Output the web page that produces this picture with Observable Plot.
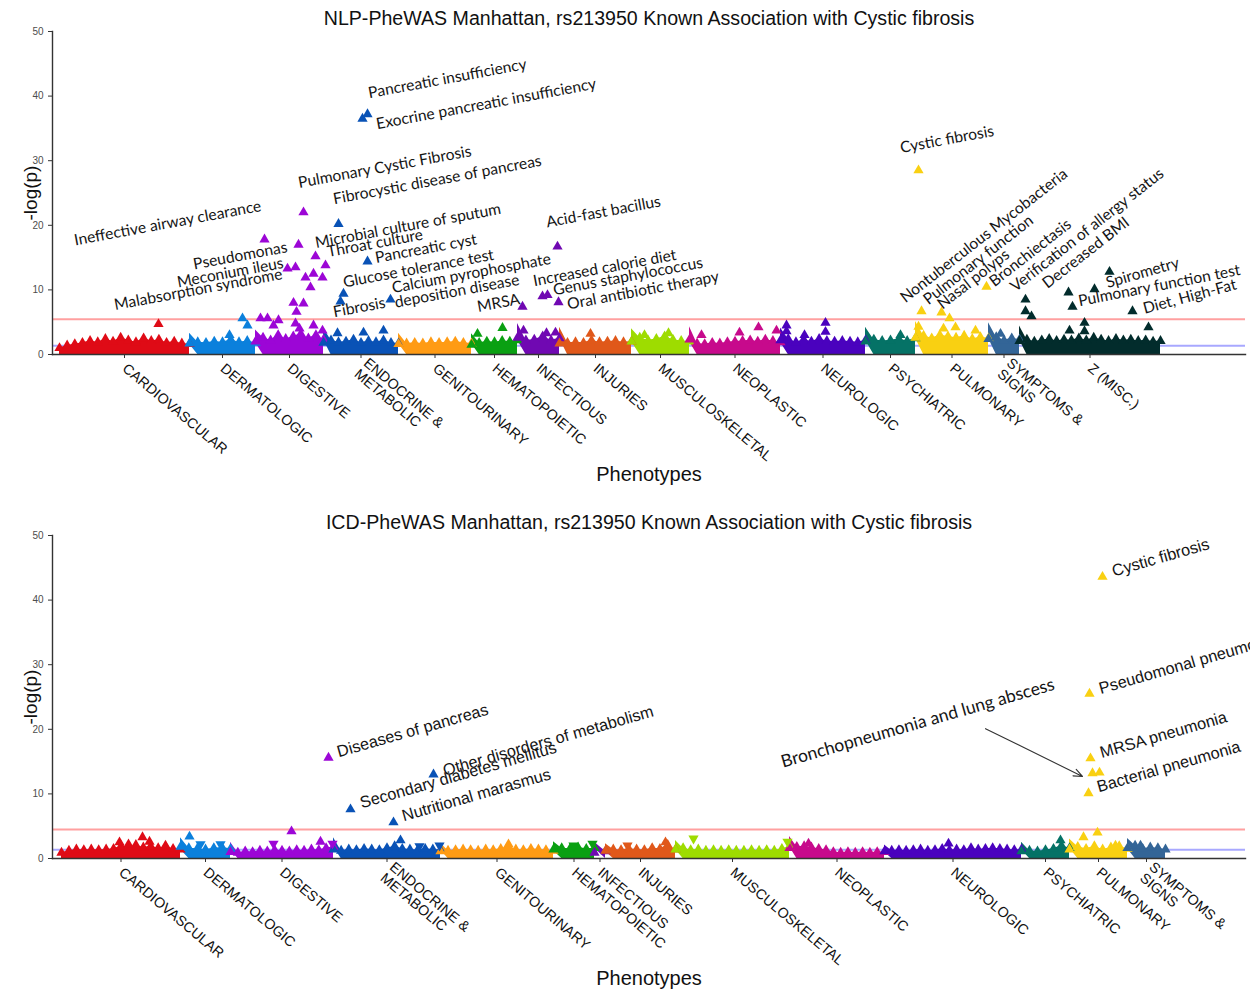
<!DOCTYPE html>
<html><head><meta charset="utf-8">
<script src="https://cdn.jsdelivr.net/npm/d3@7"></script>
<script src="https://cdn.jsdelivr.net/npm/@observablehq/plot@0.6"></script>
<style>
html,body{margin:0;padding:0;background:#fff;}
#wrap svg{display:block;}
</style></head><body><div id="wrap"></div>
<script>
// ---------------- DATA ----------------
const nlpTitle = "NLP-PheWAS Manhattan, rs213950 Known Association with Cystic fibrosis";
const icdTitle = "ICD-PheWAS Manhattan, rs213950 Known Association with Cystic fibrosis";
const xTitle = "Phenotypes";
const yTitle = "-log(p)";
const yTicks = [0, 10, 20, 30, 40, 50];

const nlpCategories = ["CARDIOVASCULAR","DERMATOLOGIC","DIGESTIVE","ENDOCRINE &\nMETABOLIC","GENITOURINARY","HEMATOPOIETIC","INFECTIOUS","INJURIES","MUSCULOSKELETAL","NEOPLASTIC","NEUROLOGIC","PSYCHIATRIC","PULMONARY","SYMPTOMS &\nSIGNS","Z (MISC.)"];
const nlpCounts = [130,66,68,75,73,46,42,72,58,91,85,50,73,31,141];
const nlpOffset = 0;
const nlpThresholds = [5.45, 1.35];
// background mass of non-significant phenotypes: -log(p) sampled along each category
const nlpMass = [
  [1.0,1.4,1.6,1.8,2.1,1.9,2.4,2.0,2.6,2.2,1.9,2.5,2.1,2.3,1.8,2.0,1.7,1.6],
  [1.7,1.9,1.8,2.0,1.9,2.3,1.9,2.1,1.8],
  [2.0,2.6,2.2,3.0,2.4,2.8,3.2,2.5,3.0,2.3],
  [1.8,2.2,1.9,2.0,2.3,1.8,2.1,1.9,2.2,1.8,1.7],
  [1.6,1.7,1.8,1.7,1.9,1.8,1.9,2.0,1.8,1.7],
  [1.5,1.8,2.0,1.9,2.1,2.0,2.2],
  [2.6,2.2,2.3,2.8,2.2,2.5],
  [1.7,1.8,1.9,1.8,2.2,1.9,2.0,2.1,1.9,2.0],
  [2.0,2.6,2.2,2.4,2.8,2.3,2.1,2.0],
  [2.3,1.7,1.6,1.8,1.7,1.9,2.0,2.1,2.2,2.0,2.3,2.1,1.9],
  [2.2,2.4,1.9,2.3,2.0,2.4,2.1,2.0,2.1,2.0,1.9,2.2],
  [2.0,2.3,2.1,2.2,2.4,2.1,2.5],
  [2.6,2.9,2.5,3.0,2.8,2.6,2.9,2.4,2.7,2.5],
  [2.4,2.7,2.2,2.5,2.3],
  [2.1,2.3,2.0,2.2,2.4,2.1,2.3,2.2,2.5,2.2,2.6,2.3,2.1,2.4,2.2,2.3,2.1,2.2,2.0,2.1]
];
// [category, phenotype index, -log(p)]
const nlpHits = [
  ["CARDIOVASCULAR",99,4.7],
  ["DERMATOLOGIC",183,5.6],["DERMATOLOGIC",188,4.5],["DERMATOLOGIC",170,3.0],
  ["DIGESTIVE",205,17.8],["DIGESTIVE",244,22.0],["DIGESTIVE",239,17.0],["DIGESTIVE",228,13.3],["DIGESTIVE",236,13.5],
  ["DIGESTIVE",256,15.2],["DIGESTIVE",266,13.8],["DIGESTIVE",246,11.9],["DIGESTIVE",254,12.5],["DIGESTIVE",263,11.9],
  ["DIGESTIVE",251,10.4],["DIGESTIVE",234,8.0],["DIGESTIVE",244,7.9],["DIGESTIVE",237,6.6],["DIGESTIVE",201,5.6],
  ["DIGESTIVE",208,5.6],["DIGESTIVE",219,5.3],["DIGESTIVE",214,4.5],["DIGESTIVE",236,4.8],["DIGESTIVE",254,4.5],
  ["DIGESTIVE",263,3.7],["DIGESTIVE",240,4.0],
  ["ENDOCRINE &\nMETABOLIC",279,20.2],["ENDOCRINE &\nMETABOLIC",303,36.5],["ENDOCRINE &\nMETABOLIC",308,37.2],
  ["ENDOCRINE &\nMETABOLIC",308,14.4],["ENDOCRINE &\nMETABOLIC",284,9.4],["ENDOCRINE &\nMETABOLIC",281,8.2],
  ["ENDOCRINE &\nMETABOLIC",331,8.5],["ENDOCRINE &\nMETABOLIC",278,3.3],["ENDOCRINE &\nMETABOLIC",304,3.4],
  ["ENDOCRINE &\nMETABOLIC",324,3.7],
  ["HEMATOPOIETIC",418,3.2],["HEMATOPOIETIC",443,4.1],
  ["INFECTIOUS",463,7.4],["INFECTIOUS",483,9.0],["INFECTIOUS",488,9.2],["INFECTIOUS",498,16.7],["INFECTIOUS",499,8.1],
  ["INFECTIOUS",464,3.7],["INFECTIOUS",487,3.3],["INFECTIOUS",496,3.4],
  ["INJURIES",531,3.2],
  ["MUSCULOSKELETAL",609,3.3],["MUSCULOSKELETAL",585,3.0],
  ["NEOPLASTIC",680,3.4],["NEOPLASTIC",699,4.2],["NEOPLASTIC",717,3.7],["NEOPLASTIC",642,3.0],
  ["NEUROLOGIC",727,4.5],["NEUROLOGIC",766,4.9],["NEUROLOGIC",727,3.6],["NEUROLOGIC",766,3.5],["NEUROLOGIC",745,3.0],
  ["PSYCHIATRIC",841,3.0],
  ["PULMONARY",859,28.5],["PULMONARY",862,6.7],["PULMONARY",882,6.5],["PULMONARY",890,5.6],["PULMONARY",927,10.5],
  ["PULMONARY",859,4.3],["PULMONARY",884,4.0],["PULMONARY",896,4.2],["PULMONARY",916,3.7],
  ["SYMPTOMS &\nSIGNS",941,3.2],
  ["Z (MISC.)",966,8.5],["Z (MISC.)",966,6.7],["Z (MISC.)",972,5.9],["Z (MISC.)",1009,9.6],["Z (MISC.)",1013,7.4],
  ["Z (MISC.)",1035,10.1],["Z (MISC.)",1050,12.8],["Z (MISC.)",1073,6.7],["Z (MISC.)",1025,4.9],["Z (MISC.)",1010,3.7],
  ["Z (MISC.)",1089,4.2],["Z (MISC.)",1025,3.6]
];
// [text, index, -log(p), angle]
const nlpLabels = [
  ["Pancreatic insufficiency",309,40.4,-10.5],
  ["Exocrine pancreatic insufficiency",317,35.6,-10.5],
  ["Pulmonary Cystic Fibrosis",239,26.5,-10.5],
  ["Fibrocystic disease of pancreas",274,24.0,-10.5],
  ["Ineffective airway clearance",15,17.6,-10.5],
  ["Microbial culture of sputum",256,17.2,-10.5],
  ["Pseudomonas",134,13.9,-10.5],
  ["Throat culture",268,15.8,-10.5],
  ["Pancreatic cyst",316,14.9,-10.5],
  ["Meconium ileus",118,11.1,-10.5],
  ["Malabsorption syndrome",55,7.6,-10.5],
  ["Glucose tolerance test",284,11.1,-10.5],
  ["Calcium pyrophosphate\ndeposition disease",334,9.1,-10.5],
  ["Fibrosis",274,6.5,-10.5],
  ["MRSA",418,7.3,-10.5],
  ["Acid-fast bacillus",487,20.4,-10.5],
  ["Increased calorie diet",474,11.3,-10.5],
  ["Genus staphylococcus",494,9.9,-10.5],
  ["Oral antibiotic therapy",508,7.7,-10.5],
  ["Cystic fibrosis",841,31.9,-10.5],
  ["Nontuberculous Mycobacteria",843,8.5,-38],
  ["Pulmonary function",866,8.2,-38],
  ["Nasal polyps",880,7.5,-38],
  ["Bronchiectasis",932,11.0,-38],
  ["Verification of allergy status",953,10.2,-38],
  ["Decreased BMI",985,10.7,-38],
  ["Spirometry",1047,11.0,-16],
  ["Pulmonary function test",1019,8.2,-11],
  ["Diet, High-Fat",1084,7.0,-15]
];

const icdCategories = ["CARDIOVASCULAR","DERMATOLOGIC","DIGESTIVE","ENDOCRINE &\nMETABOLIC","GENITOURINARY","HEMATOPOIETIC","INFECTIOUS","INJURIES","MUSCULOSKELETAL","NEOPLASTIC","NEUROLOGIC","PSYCHIATRIC","PULMONARY","SYMPTOMS &\nSIGNS"];
const icdCounts = [119,50,103,107,113,41,11,70,114,95,137,48,58,38];
const icdOffset = 2;
const icdThresholds = [4.5, 1.35];
const icdMass = [
  [0.9,1.2,1.4,1.3,1.4,1.3,1.4,1.5,1.9,1.6,2.1,1.7,1.9,1.6,1.8,1.5,1.4],
  [1.8,1.6,1.5,1.4,1.6,1.7,1.5],
  [1.0,0.9,1.1,1.0,1.2,1.1,1.3,1.2,1.1,1.3,1.2,1.4,1.3,1.6,1.8],
  [1.4,1.2,1.4,1.3,1.5,1.4,1.3,1.6,1.9,1.5,1.4,1.3,1.5,1.4,1.3],
  [1.1,1.2,1.3,1.4,1.3,1.2,1.4,1.3,1.5,1.9,1.4,1.3,1.5,1.4,1.3,1.2],
  [1.4,1.6,1.5,1.7,1.5,1.6],
  [0.9,1.1],
  [1.2,1.4,1.3,1.5,1.4,1.3,1.6,1.5,2.1,1.4],
  [1.4,1.6,1.3,1.4,1.2,1.3,1.2,1.3,1.2,1.2,1.3,1.2,1.3,1.2,1.5,1.8],
  [1.6,1.8,1.9,1.7,1.5,1.3,1.0,0.9,1.0,0.9,1.0,0.9,1.0,1.0],
  [1.1,1.2,1.3,1.2,1.3,1.4,1.2,1.3,1.5,1.3,1.4,1.3,1.6,1.4,1.5,1.6,1.5,1.4,1.3,1.4],
  [1.1,1.2,1.1,1.3,1.5,2.0,1.6],
  [1.4,1.8,1.5,1.9,1.4,1.7,1.9,1.5],
  [1.6,2.0,1.5,1.7,1.6,1.4]
];
// [category, phenotype index, -log(p), direction (1 up, -1 down)]
const icdHits = [
  ["CARDIOVASCULAR",60,2.5,1],["CARDIOVASCULAR",69,2.2,1],["CARDIOVASCULAR",83,3.3,1],["CARDIOVASCULAR",106,2.0,1],["CARDIOVASCULAR",90,2.6,1],
  ["DERMATOLOGIC",130,3.4,1],["DERMATOLOGIC",141,2.2,-1],["DERMATOLOGIC",161,2.2,-1],
  ["DIGESTIVE",269,15.6,1],["DIGESTIVE",232,4.2,1],["DIGESTIVE",261,2.6,1],["DIGESTIVE",214,2.3,-1],["DIGESTIVE",273,2.3,-1],
  ["ENDOCRINE &\nMETABOLIC",291,7.6,1],["ENDOCRINE &\nMETABOLIC",334,5.6,1],["ENDOCRINE &\nMETABOLIC",374,13.0,1],
  ["ENDOCRINE &\nMETABOLIC",341,2.8,1],["ENDOCRINE &\nMETABOLIC",380,2.0,-1],["ENDOCRINE &\nMETABOLIC",360,1.9,-1],
  ["GENITOURINARY",449,2.2,1],
  ["HEMATOPOIETIC",514,2.0,-1],["HEMATOPOIETIC",533,2.3,-1],
  ["INJURIES",568,2.0,-1],["INJURIES",606,2.5,1],
  ["MUSCULOSKELETAL",634,3.1,-1],["MUSCULOSKELETAL",728,2.6,-1],
  ["NEOPLASTIC",749,2.3,1],
  ["NEUROLOGIC",889,2.3,1],
  ["PSYCHIATRIC",1001,2.8,1],
  ["PULMONARY",1043,43.6,1],["PULMONARY",1030,25.5,1],["PULMONARY",1031,15.5,1],["PULMONARY",1033,13.2,1],
  ["PULMONARY",1040,13.3,1],["PULMONARY",1029,10.1,1],["PULMONARY",1024,3.3,1],["PULMONARY",1038,4.0,1],["PULMONARY",1056,2.0,1],
  ["SYMPTOMS &\nSIGNS",1081,2.0,1]
];
const icdLabels = [
  ["Diseases of pancreas",278,16.4,-16],
  ["Other disorders of metabolism",384,13.5,-16],
  ["Secondary diabetes mellitus",301,8.5,-16],
  ["Nutritional marasmus",343,6.5,-16],
  ["Cystic fibrosis",1053,44.4,-16],
  ["Pseudomonal pneumonia",1040,26.2,-16],
  ["MRSA pneumonia",1041,16.3,-16],
  ["Bacterial pneumonia",1038,11.0,-16]
];
const icdNotes = [["Bronchopneumonia and lung abscess",722,14.9,-16]];
const icdArrows = [[926,20.1,1023,12.7]];

// ---------------- STYLE ----------------
const palette = {
  "CARDIOVASCULAR":"#df0b16","DERMATOLOGIC":"#0b80dc","DIGESTIVE":"#9c06d6","ENDOCRINE &\nMETABOLIC":"#0952b6",
  "GENITOURINARY":"#ff9b14","HEMATOPOIETIC":"#0aa012","INFECTIOUS":"#7008b2","INJURIES":"#e0581a",
  "MUSCULOSKELETAL":"#9edc00","NEOPLASTIC":"#c70a8c","NEUROLOGIC":"#4a02be","PSYCHIATRIC":"#057266",
  "PULMONARY":"#f9d012","SYMPTOMS &\nSIGNS":"#336597","Z (MISC.)":"#022c2c"
};
const sq3 = Math.sqrt(3);
const triDown = {draw(ctx, size){const y = -Math.sqrt(size/(sq3*3)); ctx.moveTo(0,-y*2); ctx.lineTo(-sq3*y,y); ctx.lineTo(sq3*y,y); ctx.closePath();}};
const SANS = "'Liberation Sans', Arial, sans-serif";

function panel(o){
  const ranges = []; let s = o.offset;
  o.cats.forEach((c,i)=>{ranges.push({cat:c,x0:s,x1:s+o.counts[i]}); s += o.counts[i];});
  const massRows = [];
  o.mass.forEach((vals,i)=>{const r = ranges[i], n = vals.length;
    vals.forEach((v,j)=>massRows.push({cat:r.cat, x:r.x0+(r.x1-r.x0)*(n===1?0.5:j/(n-1)), y:v}));});
  const hitRows = o.hits.map(([cat,x,y,dir=1])=>({cat,x,y,dir}));
  const labelRows = o.labels.map(([text,x,y,rotate])=>({text,x,y,rotate}));
  const noteRows = (o.notes||[]).map(([text,x,y,rotate])=>({text,x,y,rotate}));
  const arrowRows = (o.arrows||[]).map(([x1,y1,x2,y2])=>({x1,y1,x2,y2}));
  const tickMap = new Map(ranges.map(r=>[(r.x0+r.x1)/2, r.cat]));
  return Plot.plot({
    width:1250, height:496, marginLeft:52, marginRight:5, marginTop:o.marginTop, marginBottom:o.marginBottom,
    x:{domain:[-7,1186], axis:null},
    y:{domain:[0,50], axis:null},
    color:{domain:Object.keys(palette), range:Object.values(palette)},
    style:{fontFamily:SANS, background:"#fff", color:"#111"},
    marks:[
      Plot.ruleY([o.lines[0]],{stroke:"#ffa0a0", strokeWidth:2}),
      Plot.ruleY([o.lines[1]],{stroke:"#a8a8ff", strokeWidth:2}),
      Plot.areaY(massRows,{x:"x", y:"y", z:"cat", fill:"cat", curve:"linear"}),
      Plot.dot(massRows,{x:"x", y:"y", fill:"cat", symbol:"triangle", r:3.8}),
      Plot.dot(hitRows.filter(d=>d.dir>0),{x:"x", y:"y", fill:"cat", symbol:"triangle", r:3.8}),
      Plot.dot(hitRows.filter(d=>d.dir<0),{x:"x", y:"y", fill:"cat", symbol:triDown, r:3.8}),
      Plot.text(labelRows,{x:"x", y:"y", text:"text", rotate:"rotate", textAnchor:"start", fontSize:o.labelSize, fontFamily:o.labelFont, fill:"#151515", lineHeight:0.95}),
      Plot.text(noteRows,{x:"x", y:"y", text:"text", rotate:"rotate", textAnchor:"start", fontSize:17.5, fontFamily:"Lato, sans-serif", fill:"#151515"}),
      Plot.arrow(arrowRows,{x1:"x1", y1:"y1", x2:"x2", y2:"y2", stroke:"#333", strokeWidth:1.1, headLength:13, headAngle:45}),
      Plot.axisX([...tickMap.keys()],{tickFormat:d=>tickMap.get(d), tickRotate:40, tickSize:4, fontSize:14.3, label:null, stroke:"#333", fill:"#111"}),
      Plot.axisY(yTicks,{tickSize:4, fontSize:10, label:null, stroke:"#333", fill:"#4d4d4d"}),
      Plot.frame({anchor:"left", stroke:"#333", strokeWidth:1.4}),
      Plot.frame({anchor:"bottom", stroke:"#333", strokeWidth:1.4}),
      Plot.text([o.title],{text:d=>d, frameAnchor:"top", lineAnchor:"middle", textAnchor:"middle", dy:-13, fontSize:19.6, fill:"#111"}),
      Plot.text([xTitle],{text:d=>d, frameAnchor:"bottom", lineAnchor:"middle", textAnchor:"middle", dy:120, fontSize:20, fill:"#111"}),
      Plot.text([yTitle],{text:d=>d, frameAnchor:"left", lineAnchor:"middle", textAnchor:"middle", dx:-22, rotate:-90, fontSize:19, fill:"#111"})
    ]
  });
}

const wrap = document.getElementById("wrap");
wrap.appendChild(panel({cats:nlpCategories, counts:nlpCounts, offset:nlpOffset, mass:nlpMass, hits:nlpHits,
  labels:nlpLabels, lines:nlpThresholds, title:nlpTitle, marginTop:31, marginBottom:142,
  labelFont:"Lato, sans-serif", labelSize:15.6}));
wrap.appendChild(panel({cats:icdCategories, counts:icdCounts, offset:icdOffset, mass:icdMass, hits:icdHits,
  labels:icdLabels, notes:icdNotes, arrows:icdArrows, lines:icdThresholds, title:icdTitle, marginTop:39, marginBottom:134,
  labelFont:SANS, labelSize:16.3}));
</script></body></html>
